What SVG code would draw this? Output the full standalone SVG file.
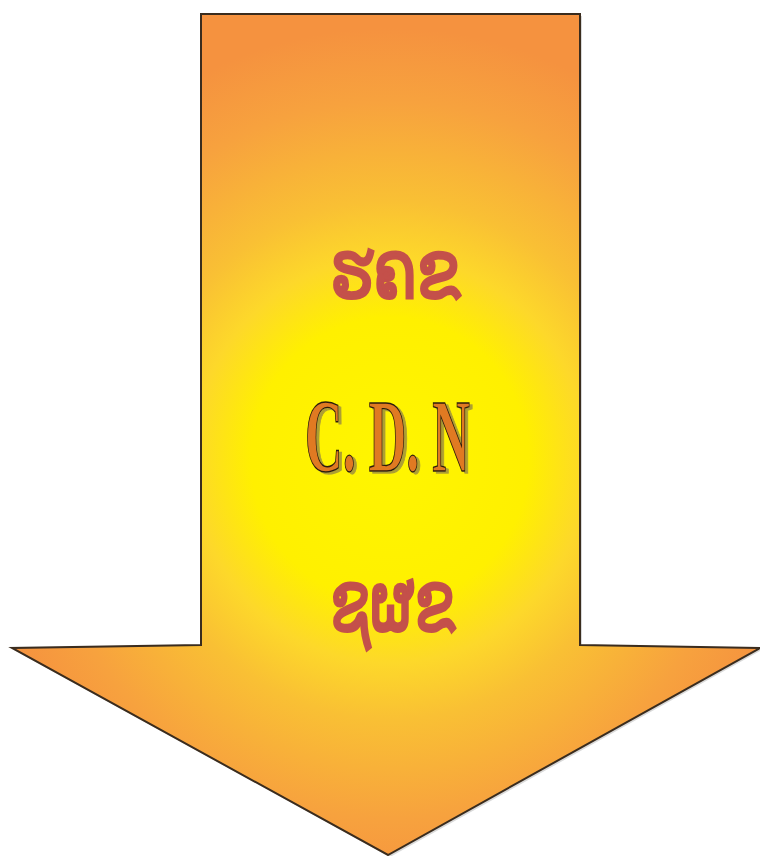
<svg xmlns="http://www.w3.org/2000/svg" width="760" height="856" viewBox="0 0 760 856">
<defs>
<radialGradient id="g" gradientUnits="userSpaceOnUse" cx="390" cy="460" r="400" gradientTransform="translate(390 460) scale(1.05 1.08) translate(-390 -460)">
<stop offset="0" stop-color="#FFF600"/>
<stop offset="0.33" stop-color="#FFF000"/>
<stop offset="0.47" stop-color="#FDD82A"/>
<stop offset="0.6" stop-color="#F9C034"/>
<stop offset="0.83" stop-color="#F7A23E"/>
<stop offset="1" stop-color="#F5923F"/>
</radialGradient>
<filter id="sh" x="-10%" y="-10%" width="120%" height="120%">
<feDropShadow dx="3" dy="2" stdDeviation="0.6" flood-color="#8a7a48" flood-opacity="0.7"/>
</filter>
</defs>
<style>
.orn{font-family:"DejaVu Sans",sans-serif;fill:#C4504A;stroke:#C4504A;stroke-width:3}
.cdn{font-family:"Liberation Serif",serif;font-weight:bold;font-size:104px;fill:#E07A22;stroke:#2a1a0a;stroke-width:1.4}
</style>
<rect width="760" height="856" fill="#fff"/>
<g id="arrow">
<polygon points="203,16 582,16 582,647 762,650 390,857 14,650 203,647" fill="#000" opacity="0.15"/>
<polygon points="201,14 580,14 580,645 760,648 388,855 12,648 201,645" fill="url(#g)" stroke="#3a2c1e" stroke-width="2" stroke-linejoin="miter"/>
</g>
<g id="labels">
<text class="orn" x="330" y="298" font-size="80" textLength="130" lengthAdjust="spacingAndGlyphs">ຮຄຂ</text>
<text class="cdn" x="305" y="471" textLength="165" lengthAdjust="spacingAndGlyphs" filter="url(#sh)">C. D. N</text>
<text class="orn" x="330" y="631" font-size="84" textLength="125" lengthAdjust="spacingAndGlyphs">ຊຜຂ</text>
</g>
</svg>
